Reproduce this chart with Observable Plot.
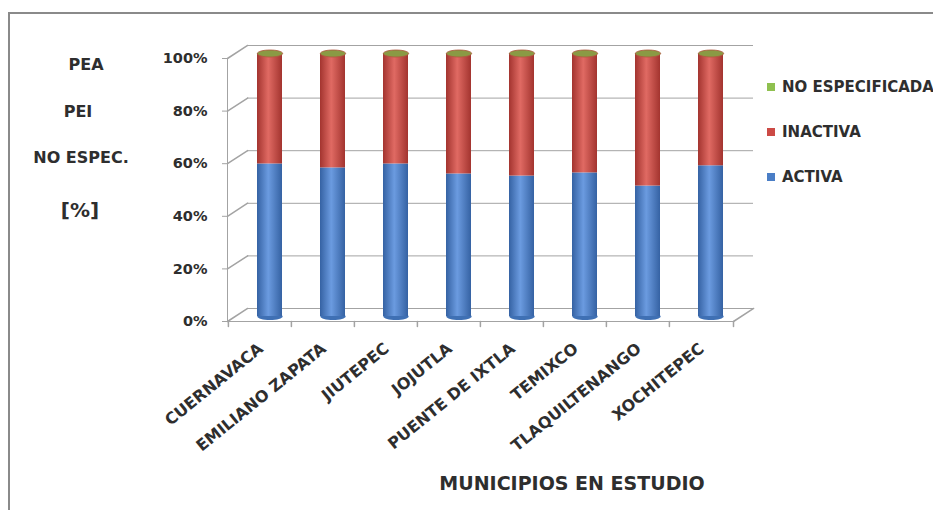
<!DOCTYPE html>
<html><head><meta charset="utf-8">
<script src="https://cdn.jsdelivr.net/npm/d3@7"></script>
<script src="https://cdn.jsdelivr.net/npm/@observablehq/plot@0.6"></script>
<style>
body{margin:0;background:#fff;}
#wrap{position:relative;width:933px;height:510px;overflow:hidden;font-family:"DejaVu Sans",sans-serif;font-weight:bold;color:#2e2e2e;background:#fff;}
#border{position:absolute;left:8px;top:12px;width:1000px;height:600px;border-left:2px solid #8a8a8a;border-top:2px solid #8a8a8a;}
#chart{position:absolute;left:0;top:0;}
.lbl{position:absolute;transform:translate(-50%,-50%);white-space:nowrap;}
.leg{position:absolute;left:767px;transform:translateY(-50%);white-space:nowrap;font-size:15px;}
.leg i{display:inline-block;width:8px;height:8px;margin-right:7px;vertical-align:middle;position:relative;top:-1px;}
</style></head>
<body>
<div id="wrap">
  <div id="border"></div>
  <div id="chart"></div>
  <div class="lbl" style="left:86px;top:64px;font-size:16px">PEA</div>
  <div class="lbl" style="left:78px;top:111px;font-size:16px">PEI</div>
  <div class="lbl" style="left:81px;top:157px;font-size:16px">NO ESPEC.</div>
  <div class="lbl" style="left:80px;top:210px;font-size:20px">[%]</div>
  <div class="leg" style="top:87px"><i style="background:#8fc04f"></i>NO ESPECIFICADA</div>
  <div class="leg" style="top:132px"><i style="background:#cc4a45"></i>INACTIVA</div>
  <div class="leg" style="top:177px"><i style="background:#4a7ec6"></i>ACTIVA</div>
  <div class="lbl" style="left:572px;top:483px;font-size:19px">MUNICIPIOS EN ESTUDIO</div>
</div>
<script>
const municipios = ["CUERNAVACA","EMILIANO ZAPATA","JIUTEPEC","JOJUTLA","PUENTE DE IXTLA","TEMIXCO","TLAQUILTENANGO","XOCHITEPEC"];
const activa = [58.0, 56.5, 58.0, 54.2, 53.4, 54.6, 49.6, 57.3];
const inactiva = [41.6, 43.2, 41.7, 45.5, 46.2, 45.1, 50.0, 42.4];
const noEspecificada = [0.4, 0.3, 0.3, 0.3, 0.4, 0.3, 0.4, 0.3];
const series = ["ACTIVA","INACTIVA","NO ESPECIFICADA"];
const colors = ["#4a7ec6","#cc4a45","#8fc04f"];
const darks = ["#3562a3","#a3342f","#6f9a36"];
const lights = ["#6b9be0","#e06a63","#a9d466"];
const yTicks = [0, 20, 40, 60, 80, 100];

const values = [activa, inactiva, noEspecificada];
const rows = [];
series.forEach((s, si) => municipios.forEach((m, mi) => rows.push({muni: m, serie: s, value: values[si][mi]})));
const totals = municipios.map((m, i) => ({muni: m, total: activa[i] + inactiva[i] + noEspecificada[i], base: 0}));

const line = {draw(c, l) { c.moveTo(0, 0); c.lineTo(0, -l); }};
const ellipse = (rx, ry) => ({draw(c) {
  const k = 0.5523;
  c.moveTo(-rx, 0);
  c.bezierCurveTo(-rx, -ry * k, -rx * k, -ry, 0, -ry);
  c.bezierCurveTo(rx * k, -ry, rx, -ry * k, rx, 0);
  c.bezierCurveTo(rx, ry * k, rx * k, ry, 0, ry);
  c.bezierCurveTo(-rx * k, ry, -rx, ry * k, -rx, 0);
  c.closePath();
}});
const grid = "#a3a3a3";

const svg = Plot.plot({
  width: 933, height: 510,
  marginLeft: 227, marginRight: 200, marginTop: 58, marginBottom: 189,
  x: {domain: municipios, paddingInner: 0.6, paddingOuter: 0.3, axis: null},
  y: {domain: [0, 100], axis: null},
  color: {domain: series, range: colors},
  style: {fontFamily: "DejaVu Sans", color: "#2e2e2e", background: "transparent", overflow: "visible"},
  marks: [
    Plot.ruleY(yTicks, {stroke: grid, dx: 20, dy: -13}),
    Plot.vector(yTicks, {y: d => d, frameAnchor: "left", rotate: 57, length: 24, anchor: "start", shape: line, stroke: grid}),
    Plot.vector([0], {y: d => d, frameAnchor: "right", rotate: 57, length: 24, anchor: "start", shape: line, stroke: grid}),
    Plot.ruleY([0], {stroke: grid}),
    Plot.frame({anchor: "left", stroke: grid}),
    Plot.axisY({ticks: yTicks, tickSize: 5, tickPadding: 15, tickFormat: d => d + "%", fontSize: 14.5, fontWeight: "bold", stroke: grid, fill: "#2e2e2e"}),
    Plot.vector(municipios, {x: d => d, y: () => 0, rotate: 180, length: 5, anchor: "start", shape: line, stroke: grid, dx: -31.6}),
    Plot.vector([0], {y: d => d, frameAnchor: "right", rotate: 180, length: 5, anchor: "start", shape: line, stroke: grid}),
    Plot.dot(totals, {x: "muni", y: "base", symbol: ellipse(12.65, 3.5), fill: "#3f70b4", dx: 10, dy: -5}),
    Plot.barY(rows, Plot.stackY({x: "muni", y: "value", fill: "serie", dx: 10, dy: -5})),
    Plot.dot(totals, {x: "muni", y: "total", symbol: ellipse(12.65, 3.5), fill: "#8a9a44", stroke: "#b0563e", strokeWidth: 0.8, dx: 10, dy: -5}),
    Plot.text(municipios, {x: d => d, y: () => 0, text: d => d, rotate: -39, textAnchor: "end", lineAnchor: "middle", dx: 1, dy: 25, fontSize: 16, fontWeight: "bold", fill: "#2e2e2e"})
  ]
});

const ns = "http://www.w3.org/2000/svg";
const defs = document.createElementNS(ns, "defs");
defs.innerHTML = series.map((s, i) => `<linearGradient id="g${i}" x1="0" x2="1" y1="0" y2="0"><stop offset="0" stop-color="${darks[i]}"/><stop offset="0.45" stop-color="${lights[i]}"/><stop offset="1" stop-color="${darks[i]}"/></linearGradient>`).join("");
svg.insertBefore(defs, svg.firstChild);
svg.querySelectorAll("rect").forEach(r => {
  const i = colors.indexOf(r.getAttribute("fill"));
  if (i >= 0) r.setAttribute("fill", `url(#g${i})`);
});
document.getElementById("chart").appendChild(svg);
</script>
</body></html>
